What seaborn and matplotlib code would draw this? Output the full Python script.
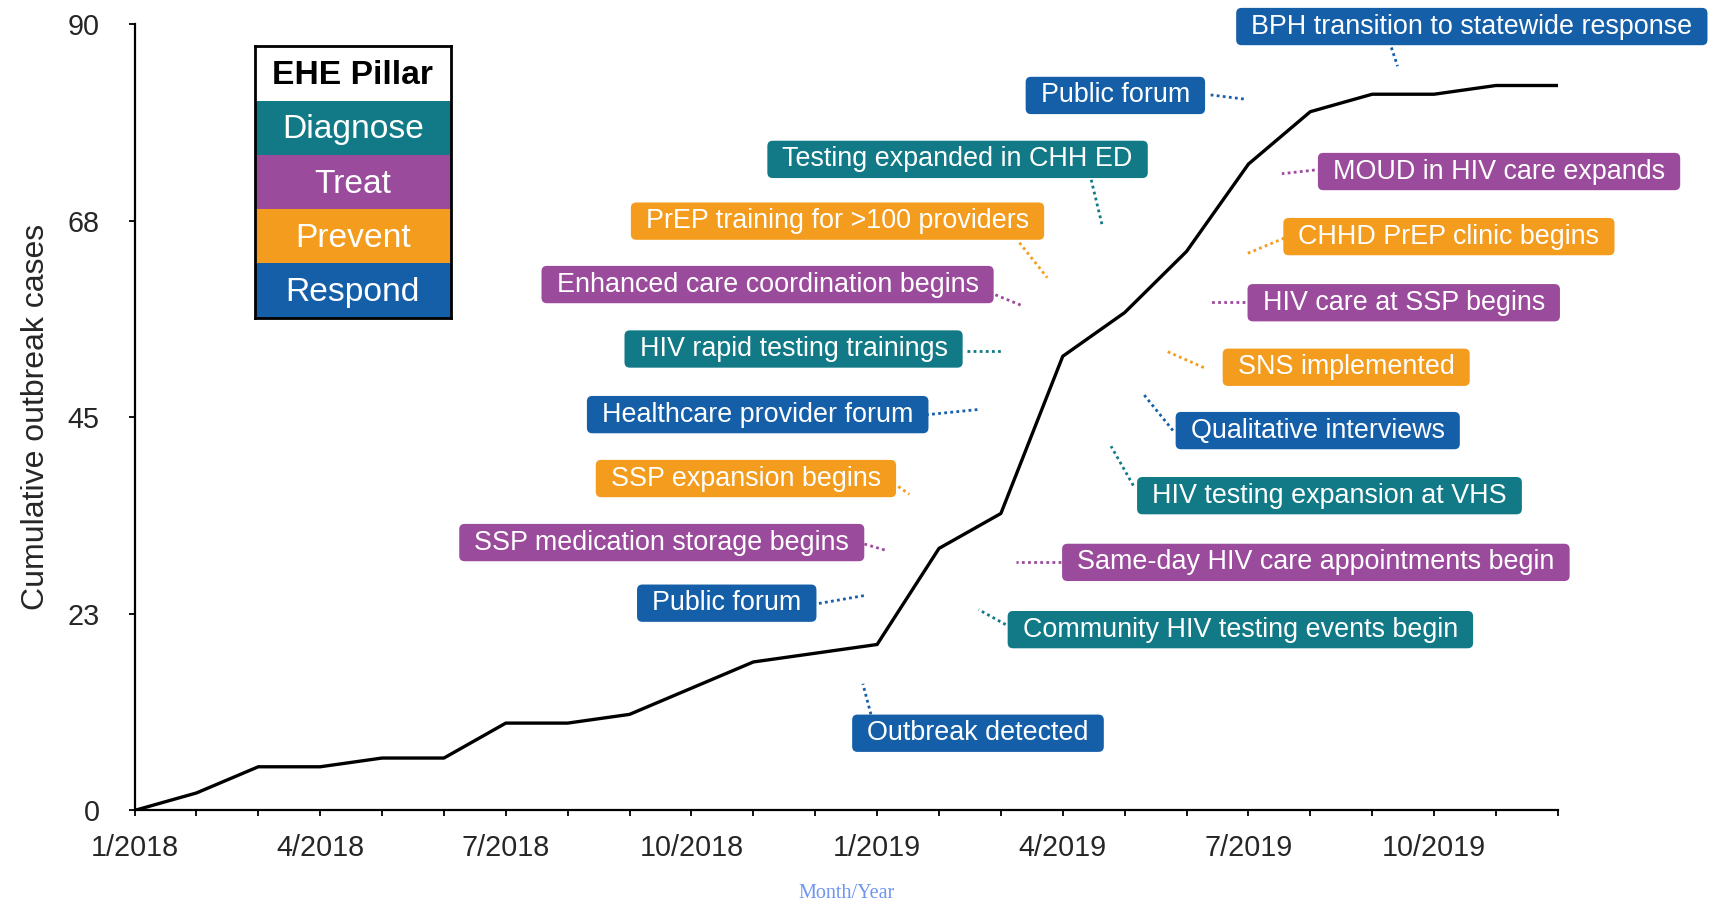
import pandas as pd
import seaborn as sns
import matplotlib.pyplot as plt
from matplotlib.patches import BoxStyle

## Outbreak curve with EHE pillar event annotations

# Monthly cumulative cases, 1/2018 - 12/2019
months = ["1/2018", "2/2018", "3/2018", "4/2018", "5/2018", "6/2018",
          "7/2018", "8/2018", "9/2018", "10/2018", "11/2018", "12/2018",
          "1/2019", "2/2019", "3/2019", "4/2019", "5/2019", "6/2019",
          "7/2019", "8/2019", "9/2019", "10/2019", "11/2019", "12/2019"]
cases = [0, 2, 5, 5, 6, 6, 10, 10, 11, 14, 17, 18,
         19, 30, 34, 52, 57, 64, 74, 80, 82, 82, 83, 83]

y_ticks = [0, 22.5, 45, 67.5, 90]
y_tick_labels = ["0", "23", "45", "68", "90"]

pillars = ["Diagnose", "Treat", "Prevent", "Respond"]
pillar_colors = {"Diagnose": "#117a86", "Treat": "#9b4b9c",
                 "Prevent": "#f39c1e", "Respond": "#155fa9"}

# Events: label, pillar
event_labels = ["BPH transition to statewide response", "Public forum",
                "Testing expanded in CHH ED", "MOUD in HIV care expands",
                "PrEP training for >100 providers", "CHHD PrEP clinic begins",
                "Enhanced care coordination begins", "HIV care at SSP begins",
                "HIV rapid testing trainings", "SNS implemented",
                "Healthcare provider forum", "Qualitative interviews",
                "SSP expansion begins", "HIV testing expansion at VHS",
                "SSP medication storage begins", "Same-day HIV care appointments begin",
                "Public forum", "Community HIV testing events begin",
                "Outbreak detected"]
event_pillars = ["Respond", "Respond", "Diagnose", "Treat", "Prevent", "Prevent",
                 "Treat", "Treat", "Diagnose", "Prevent", "Respond", "Respond",
                 "Prevent", "Diagnose", "Treat", "Treat", "Respond", "Diagnose",
                 "Respond"]

# label placement (month index, cases) and dotted leader start/end
box_pos = [(21.61, 89.75), (15.85, 81.86), (13.30, 74.54), (22.05, 73.15),
           (11.36, 67.47), (21.24, 65.70), (10.23, 60.21), (20.51, 58.13),
           (10.65, 52.83), (19.58, 50.74), (10.07, 45.32), (19.12, 43.49),
           (9.88, 38.00), (19.31, 36.04), (8.52, 30.67), (19.09, 28.40),
           (9.57, 23.73), (17.87, 20.70), (13.63, 8.84)]
leaders = [((20.31, 87.35), (20.41, 85.21)), ((17.39, 81.92), (17.96, 81.42)),
           ((15.46, 72.2), (15.64, 66.9)), ((19.17, 73.4), (18.54, 72.9)),
           ((14.30, 65.0), (14.75, 61.0)), ((18.67, 65.8), (17.96, 63.7)),
           ((13.82, 59.3), (14.34, 57.8)), ((18.04, 58.2), (17.37, 58.2)),
           ((13.45, 52.6), (14.04, 52.6)), ((17.28, 50.7), (16.67, 52.6)),
           ((12.79, 45.3), (13.63, 45.9)), ((16.78, 43.5), (16.30, 47.7)),
           ((12.18, 37.9), (12.52, 36.2)), ((16.14, 37.2), (15.78, 41.7)),
           ((11.70, 30.7), (12.13, 29.8)), ((15.07, 28.4), (14.25, 28.4)),
           ((11.06, 23.7), (11.79, 24.6)), ((14.25, 20.6), (13.64, 23.0)),
           ((11.90, 11.0), (11.77, 14.5))]

df = pd.DataFrame({"idx": range(len(months)), "Month": months, "Cases": cases})

sns.set_style("ticks")
plt.rcParams["font.family"] = ["Liberation Sans", "DejaVu Sans"]


def pill_box(x0, y0, width, height, mutation_size):
    # rounded box with wider horizontal than vertical padding
    padx = 0.56 * mutation_size
    pady = 0.21 * mutation_size
    return BoxStyle.Round(pad=0, rounding_size=0.2)(
        x0 - padx, y0 - pady, width + 2 * padx, height + 2 * pady, mutation_size)


fig = plt.figure(figsize=(17.29, 9.02), dpi=100)
ax = fig.add_axes([0.0778, 0.1015, 0.901 - 0.0778, 0.973 - 0.1015])

sns.lineplot(data=df, x="idx", y="Cases", color="black", linewidth=2.4, ax=ax)

ax.set_xlim(0, len(months) - 1)
ax.set_ylim(0, 90)
ax.set_xticks(range(len(months)))
ax.set_xticklabels([m if i % 3 == 0 else "" for i, m in enumerate(months)], fontsize=20.7)
ax.set_yticks(y_ticks)
ax.set_yticklabels(y_tick_labels, fontsize=20.7)
ax.tick_params(axis="both", direction="out", length=4, width=1.3, color="black")
ax.tick_params(axis="x", pad=13)
ax.tick_params(axis="y", pad=21)
ax.set_xlabel("")
ax.set_ylabel("Cumulative outbreak cases", fontsize=23, labelpad=12)
sns.despine(ax=ax)
for s in ["left", "bottom"]:
    ax.spines[s].set_linewidth(1.6)
    ax.spines[s].set_color("black")

# event boxes and dotted leaders
for label, pillar, (bx, by), (p0, p1) in zip(event_labels, event_pillars, box_pos, leaders):
    col = pillar_colors[pillar]
    ax.plot([p0[0], p1[0]], [p0[1], p1[1]], color=col, linestyle=(0, (1, 1.2)),
            linewidth=2, clip_on=False)
    ax.text(bx, by, label, ha="center", va="center", fontsize=19.4, color="white",
            bbox=dict(boxstyle=pill_box, facecolor=col, edgecolor="none"), zorder=5)

fig.text(847 / 1729, 1 - 893 / 902, "Month/Year", ha="center", va="center",
         fontsize=14.5, color="#6f95f0", family=["Liberation Serif", "DejaVu Serif"])

# pillar key
leg = fig.add_axes([254.7 / 1729, 1 - 317.6 / 902, (451 - 254.7) / 1729, (317.6 - 46.3) / 902])
rows = ["EHE Pillar"] + pillars
row_colors = ["white"] + [pillar_colors[p] for p in pillars]
leg.barh(range(len(rows)), [1] * len(rows), height=1, left=0, color=row_colors, edgecolor="none")
for i, r in enumerate(rows):
    leg.text(0.5, i + 0.04, r, ha="center", va="center", fontsize=24.2,
             color="black" if i == 0 else "white", fontweight="bold" if i == 0 else "normal")
leg.set_xlim(0, 1)
leg.set_ylim(len(rows) - 0.5, -0.5)
leg.set_xticks([])
leg.set_yticks([])
for s in leg.spines.values():
    s.set_visible(True)
    s.set_linewidth(2)
    s.set_color("black")

fig.savefig("out.png", dpi=100)
